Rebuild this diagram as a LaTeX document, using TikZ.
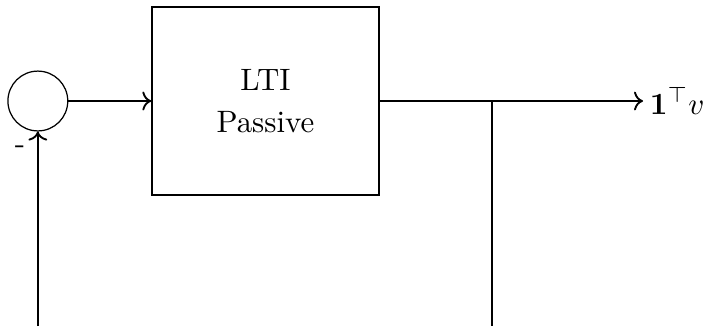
\documentclass[tikz,border=0pt]{standalone}
\usepackage{amsmath}
\usepackage{amssymb}
\usepackage{tikz}
\usetikzlibrary{positioning, arrows, arrows.meta}

\begin{document}
\begin{tikzpicture}[every node/.style={font=\normalsize},
  sumnode/.style={draw,circle,minimum size=0.68cm,inner sep=0pt},
  plantbox/.style={draw,rectangle,minimum width=2.58cm,minimum height=2.136cm,align=center},
  sig/.style={semithick,->}]
\useasboundingbox (0,0) rectangle (8.034,-3.705);

% --- Summing junction and plant ---
\node[sumnode] (sum) at (0.43,-1.148) {};
\node[plantbox] (plant) at (3.017,-1.148) {LTI\\[1.6pt]Passive};

% --- Output signal ---
\coordinate (tip) at (7.307,-1.148);
\node[right,inner sep=2pt] (out) at (tip) {$\mathbf{1}^\top v$};
\draw[sig] (sum) -- (plant);
\draw[sig] (plant) -- (tip);

% --- Branch and feedback ---
\coordinate (branch) at (5.59,-1.148);
\coordinate (branchend) at (5.59,-3.705);
\coordinate (fbstart) at (0.43,-3.705);
\draw (branch) -- (branchend);
\draw[sig] (fbstart) -- (sum);
\node (minus) at (0.227,-1.70) {-};
\end{tikzpicture}
\end{document}
